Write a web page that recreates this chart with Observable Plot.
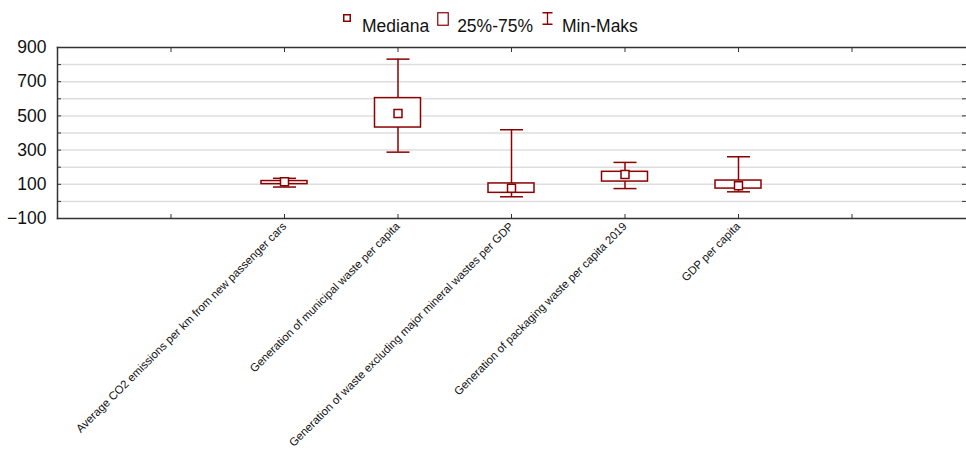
<!DOCTYPE html>
<html>
<head>
<meta charset="utf-8">
<script src="https://cdn.jsdelivr.net/npm/d3@7"></script>
<script src="https://cdn.jsdelivr.net/npm/@observablehq/plot@0.6"></script>
<style>
  html, body { margin: 0; padding: 0; background: #fff; }
  #wrap { position: relative; width: 966px; height: 456px; font-family: "Liberation Sans", Arial, sans-serif; }
  #legend { position: absolute; left: 343px; top: 11px; display: flex; align-items: flex-start; font-size: 17.5px; color: #111; white-space: nowrap; }
  #legend .item { display: flex; align-items: flex-start; }
  #legend svg { display: block; }
  #legend span { line-height: 20px; margin-top: 5px; }
</style>
</head>
<body>
<div id="wrap">
  <div id="legend">
    <div class="item"><svg width="8" height="9" style="margin-top:3px"><rect x="0.75" y="0.75" width="6.5" height="6.5" fill="#fff" stroke="#8b0000" stroke-width="1.5"/></svg><span style="margin-left:11px">Mediana</span></div>
    <div class="item" style="margin-left:8px"><svg width="12" height="14" style="margin-top:1px"><rect x="0.75" y="0.75" width="10.5" height="12.5" fill="#fff" stroke="#8b0000" stroke-width="1.2"/></svg><span style="margin-left:8px">25%-75%</span></div>
    <div class="item" style="margin-left:9px"><svg width="11" height="13" style="margin-top:1px"><path d="M0.5,0.75H10.5M5.5,0.75V12.25M0.5,12.25H10.5" fill="none" stroke="#8b0000" stroke-width="1.3"/></svg><span style="margin-left:9px">Min-Maks</span></div>
  </div>
  <div id="chart"></div>
</div>
<script>
const categories = [
  "Average CO2 emissions per km from new passenger cars",
  "Generation of municipal waste per capita",
  "Generation of waste excluding major mineral wastes per GDP",
  "Generation of packaging waste per capita 2019",
  "GDP per capita"
];
const positions = [2, 3, 4, 5, 6];
const minVals = [84, 288, 27, 75, 56];
const q1Vals = [101, 432, 50, 116, 75];
const medianVals = [115, 514, 77, 157, 91];
const q3Vals = [119, 604, 105, 173, 122];
const maxVals = [135, 832, 419, 228, 261];
const xTicks = [1, 2, 3, 4, 5, 6, 7];
const yTicks = [-100, 0, 100, 200, 300, 400, 500, 600, 700, 800, 900];
const yLabelTicks = [-100, 100, 300, 500, 700, 900];

const data = categories.map((c, i) => ({
  name: c, pos: positions[i], min: minVals[i], q1: q1Vals[i],
  med: medianVals[i], q3: q3Vals[i], max: maxVals[i]
}));

const red = "#8b0000";
const capSymbol = {
  draw(ctx, size) {
    const w = 11.5;
    ctx.moveTo(-w, 0);
    ctx.lineTo(w, 0);
  }
};
const tickFmt = d => { const i = positions.indexOf(d); return i >= 0 ? categories[i] : ""; };

const chart = Plot.plot({
  width: 966,
  height: 456,
  marginTop: 47,
  marginBottom: 238,
  marginLeft: 57,
  marginRight: 1,
  style: { fontFamily: "'Liberation Sans', Arial, sans-serif", background: "#fff" },
  x: { domain: [0, 8] },
  y: { domain: [-100, 900] },
  marks: [
    Plot.ruleY(yTicks.filter(v => v > -100 && v < 900), { stroke: "#dedede", strokeWidth: 1.5 }),
    Plot.axisY(yLabelTicks, { tickSize: 0, tickPadding: 11, fontSize: 17.5, fill: "#111", label: null }),
    Plot.axisY(yTicks, { anchor: "left", tickSize: -4, tickFormat: () => "", stroke: "#333", label: null }),
    Plot.axisY(yTicks, { anchor: "right", tickSize: -4, tickFormat: () => "", stroke: "#333", label: null }),
    Plot.axisX(xTicks, { anchor: "bottom", tickSize: -4, tickFormat: () => "", stroke: "#333", label: null }),
    Plot.axisX(xTicks, { anchor: "top", tickSize: -4, tickFormat: () => "", stroke: "#333", label: null }),
    Plot.axisX(positions, { anchor: "bottom", tickSize: 0, tickPadding: 6, tickRotate: -45, tickFormat: tickFmt, fontSize: 11.4, fill: "#111", label: null }),
    Plot.frame({ anchor: "left", stroke: "#333", strokeWidth: 1.5 }),
    Plot.frame({ anchor: "top", stroke: "#333", strokeWidth: 1.5 }),
    Plot.frame({ anchor: "bottom", stroke: "#333", strokeWidth: 1.5 }),
    Plot.ruleX(data, { x: "pos", y1: "min", y2: "max", stroke: red, strokeWidth: 1.5 }),
    Plot.dot(data, { x: "pos", y: "min", symbol: capSymbol, stroke: red, strokeWidth: 1.5 }),
    Plot.dot(data, { x: "pos", y: "max", symbol: capSymbol, stroke: red, strokeWidth: 1.5 }),
    Plot.rect(data, { x1: "pos", x2: "pos", y1: "q1", y2: "q3", insetLeft: -23, insetRight: -23, fill: "#fff", stroke: red, strokeWidth: 1.5 }),
    Plot.dot(data, { x: "pos", y: "med", symbol: "square", r: 4.5, fill: "#fff", stroke: red, strokeWidth: 1.5 })
  ]
});
document.getElementById("chart").appendChild(chart);
</script>
</body>
</html>
